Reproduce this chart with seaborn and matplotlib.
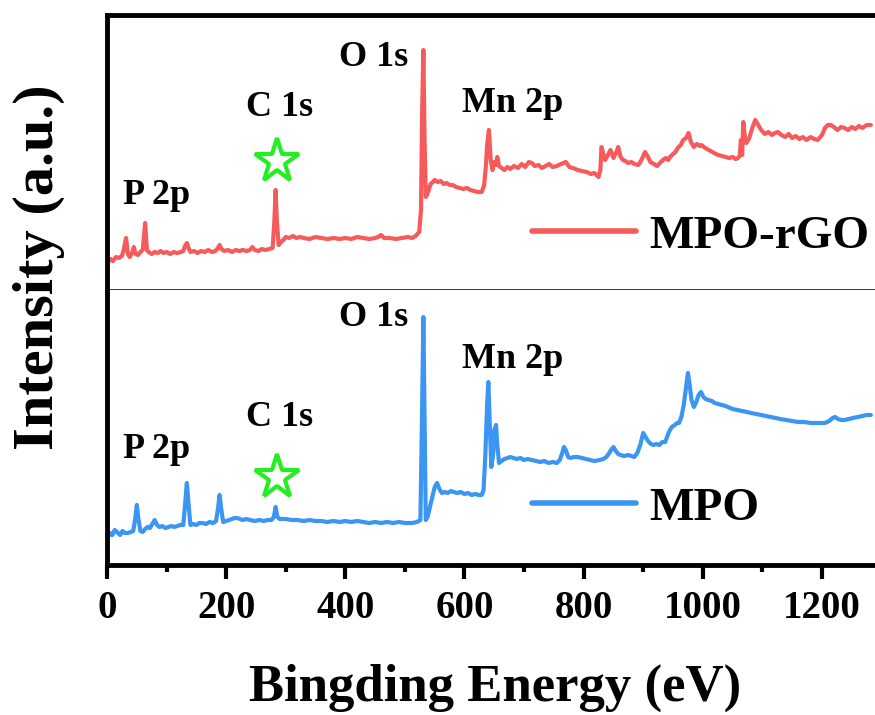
import matplotlib
matplotlib.use("Agg")
import matplotlib.pyplot as plt
import seaborn as sns
import pandas as pd

# XPS survey spectrum of MPO-rGO (binding energy in eV, intensity in a.u.)
rgo_energy = [2, 6, 10, 15, 20, 25, 28, 32, 35, 38, 42, 45, 48, 52, 56, 60, 64, 67, 70, 75,
              80, 85, 90, 95, 100, 106, 112, 118, 124, 128, 131, 134, 137, 140, 146, 152,
              158, 164, 170, 176, 182, 186, 189, 192, 197, 203, 210, 216, 222, 228, 234,
              240, 244, 248, 254, 260, 266, 272, 278, 281, 283, 285, 288, 292, 296, 300,
              306, 312, 318, 324, 330, 340, 350, 360, 370, 380, 390, 400, 410, 420, 430,
              440, 450, 455, 460, 465, 475, 485, 495, 505, 512, 518, 524, 527, 529, 531,
              533, 535, 537, 540, 543, 547, 550, 555, 560, 565, 570, 575, 580, 586, 592,
              598, 604, 610, 616, 622, 629, 633, 636, 638, 641, 644, 647, 650, 653, 655,
              658, 662, 667, 672, 677, 683, 690, 696, 702, 708, 713, 718, 724, 730, 736,
              742, 748, 755, 762, 770, 776, 782, 790, 797, 805, 812, 818, 825, 828, 830,
              833, 836, 840, 845, 850, 855, 858, 862, 866, 870, 875, 880, 885, 892, 897,
              903, 908, 912, 918, 923, 928, 933, 938, 942, 945, 950, 954, 958, 963, 967,
              972, 976, 980, 985, 990, 995, 998, 1004, 1010, 1016, 1022, 1026, 1032, 1038,
              1044, 1050, 1055, 1059, 1062, 1064, 1066, 1068, 1071, 1073, 1078, 1083,
              1088, 1093, 1098, 1104, 1110, 1116, 1121, 1126, 1132, 1138, 1144, 1150,
              1156, 1162, 1168, 1174, 1181, 1187, 1193, 1200, 1205, 1210, 1215, 1220,
              1226, 1232, 1238, 1244, 1250, 1256, 1262, 1268, 1275, 1282]
rgo_intensity = [28, 31, 29, 33, 32, 34, 40, 52, 36, 33, 37, 43, 36, 35, 38, 40, 67, 40, 38, 36,
                 38, 37, 39, 37, 38, 36, 38, 37, 38, 39, 44, 47, 42, 38, 39, 37,
                 39, 38, 40, 38, 39, 42, 45, 41, 39, 40, 38, 40, 39, 40, 39,
                 40, 43, 40, 39, 41, 40, 41, 42, 70, 100, 70, 45, 48, 50, 53,
                 52, 54, 52, 53, 52, 51, 53, 52, 51, 52, 51, 52, 51, 53, 52,
                 51, 52, 53, 55, 52, 52, 51, 52, 53, 52, 54, 58, 80, 180, 240,
                 150, 93, 95, 100, 106, 108, 110, 108, 109, 106, 107, 105, 105, 103, 102,
                 101, 102, 100, 99, 98, 98, 105, 125, 145, 160, 130, 120, 128, 125, 133,
                 124, 122, 120, 123, 121, 124, 122, 126, 123, 128, 127, 124, 125, 122, 124,
                 126, 123, 124, 126, 128, 123, 122, 120, 119, 118, 116, 117, 113, 120, 143,
                 136, 130, 134, 140, 132, 138, 143, 133, 130, 129, 127, 128, 126, 125, 130,
                 138, 133, 128, 126, 124, 127, 130, 132, 130, 133, 136, 138, 142, 145, 150,
                 152, 157, 148, 143, 146, 144, 145, 142, 140, 138, 136, 135, 134, 133,
                 132, 133, 131, 132, 134, 150, 135, 168, 150, 147, 152, 162,
                 170, 165, 160, 156, 158, 155, 157, 158, 155, 153, 156, 152,
                 154, 151, 153, 150, 153, 151, 150, 155, 162, 165, 165, 163,
                 160, 163, 162, 160, 163, 161, 164, 162, 165, 165]

# XPS survey spectrum of MPO
mpo_energy = [2, 5, 9, 13, 17, 22, 26, 30, 35, 40, 44, 47, 50, 53, 56, 60, 64, 68, 72, 76,
              80, 84, 88, 93, 98, 103, 108, 113, 118, 123, 128, 131, 134, 137, 140, 145,
              150, 155, 160, 166, 172, 178, 183, 186, 189, 192, 195, 200, 205, 210, 214,
              218, 223, 228, 234, 240, 248, 256, 263, 270, 276, 280, 283, 286, 290, 300,
              310, 320, 330, 340, 350, 360, 370, 380, 390, 400, 410, 420, 430, 440, 450,
              460, 470, 480, 490, 500, 512, 520, 526, 528, 531, 533, 535, 538, 542, 546,
              550, 554, 558, 562, 567, 572, 577, 582, 588, 594, 600, 606, 612, 618, 624,
              629, 632, 635, 638, 640, 642, 645, 648, 650, 653, 655, 658, 662, 667, 672,
              677, 682, 688, 694, 700, 706, 713, 720, 727, 734, 741, 748, 755, 760, 764,
              767, 770, 774, 778, 784, 790, 797, 804, 811, 818, 827, 833, 838, 843, 847,
              850, 854, 858, 862, 868, 875, 880, 885, 890, 895, 900, 904, 908, 913, 917,
              922, 927, 932, 937, 940, 943, 948, 953, 957, 960, 964, 968, 972, 975, 978,
              981, 985, 989, 993, 997, 1001, 1005, 1009, 1015, 1020, 1026, 1032, 1038,
              1042, 1050, 1058, 1066, 1074, 1081, 1090, 1098, 1106, 1114, 1122, 1130,
              1140, 1150, 1160, 1170, 1181, 1190, 1198, 1205, 1212, 1218, 1222, 1227,
              1232, 1238, 1245, 1252, 1260, 1268, 1275, 1282]
mpo_intensity = [28, 32, 30, 35, 33, 30, 34, 32, 32, 33, 34, 45, 60, 45, 34, 33, 36, 38, 37, 41,
                 45, 40, 38, 39, 37, 38, 39, 38, 39, 40, 40, 60, 82, 60, 40, 41,
                 40, 42, 42, 41, 43, 42, 44, 55, 70, 55, 43, 44, 45, 46, 47,
                 47, 46, 45, 46, 45, 44, 45, 44, 45, 45, 48, 58, 48, 46, 46,
                 45, 45, 44, 45, 44, 44, 43, 44, 43, 44, 43, 44, 43, 42, 43,
                 42, 43, 42, 43, 42, 42, 43, 45, 120, 248, 150, 45, 48, 58, 68,
                 78, 82, 76, 72, 73, 72, 74, 73, 72, 73, 71, 72, 70, 71, 70,
                 70, 75, 110, 160, 183, 150, 98, 110, 135, 140, 120, 102, 104, 106, 107,
                 108, 107, 106, 107, 105, 106, 105, 104, 103, 104, 102, 103, 102, 105, 112,
                 118, 115, 108, 107, 108, 108, 107, 106, 105, 104, 105, 106, 108, 112, 116,
                 118, 114, 111, 110, 109, 110, 109, 108, 112, 120, 132, 128, 124, 121, 120,
                 121, 120, 123, 123, 128, 133, 138, 140, 142, 142, 148, 160, 178, 192, 180,
                 165, 158, 163, 170, 173, 168, 166, 165, 164, 162, 161, 160, 159,
                 158, 156, 155, 154, 153, 152, 151, 150, 149, 148, 147, 146,
                 145, 144, 143, 143, 142, 142, 142, 142, 144, 147, 148, 146,
                 145, 145, 146, 147, 148, 149, 150, 150]

samples = ["MPO-rGO", "MPO"]
colors = ["#F75A5A", "#3A96F2"]

# peak annotations (label, energy, intensity) for each panel
rgo_labels = [("P 2p", 84, 95), ("C 1s", 289, 183), ("O 1s", 448, 233), ("Mn 2p", 680, 186)]
mpo_labels = [("P 2p", 84, 115), ("C 1s", 289, 148), ("O 1s", 448, 248), ("Mn 2p", 680, 205)]
star_points = [(285, 129), (285, 88)]

x_ticks = [0, 200, 400, 600, 800, 1000, 1200]
x_minor = [100, 300, 500, 700, 900, 1100]

sns.set_style("ticks")
plt.rcParams["font.family"] = ["Liberation Serif", "DejaVu Serif"]
plt.rcParams["font.weight"] = "bold"
plt.rcParams["text.color"] = "black"
plt.rcParams["axes.edgecolor"] = "black"
plt.rcParams["xtick.color"] = "black"
plt.rcParams["axes.labelcolor"] = "black"

fig = plt.figure(figsize=(8.75, 7.15), dpi=100)
W, H = 875, 715
left, right = 107, 875
top, mid, bottom = 15, 290, 565
ax_top = fig.add_axes([left / W, 1 - mid / H, (right - left) / W, (mid - top) / H])
ax_bot = fig.add_axes([left / W, 1 - bottom / H, (right - left) / W, (bottom - mid) / H],
                      sharex=ax_top)

panels = [
    (ax_top, rgo_energy, rgo_intensity, rgo_labels, star_points[0], 0.196),
    (ax_bot, mpo_energy, mpo_intensity, mpo_labels, star_points[1], 0.207),
]

for i, (ax, e, inten, labels, star, leg_y) in enumerate(panels):
    df = pd.DataFrame({"Binding energy": e, "Intensity": inten})
    sns.lineplot(data=df, x="Binding energy", y="Intensity", ax=ax, color=colors[i],
                 lw=3.0, label=samples[i], sort=False, estimator=None)
    for txt, xe, yi in labels:
        ax.text(xe, yi, txt, ha="center", va="center", fontsize=26, fontweight="bold",
                color="black")
    ax.plot([star[0]], [star[1]], marker="*", markersize=33, mfc="white",
            mec="#22EE22", mew=3, ls="none")
    ax.set_ylim(0, 275)
    ax.set_xlim(0, 1289)
    ax.set_yticks([])
    ax.set_ylabel("")
    ax.set_xlabel("")
    leg = ax.legend(loc="center left", bbox_to_anchor=(0.553, leg_y), frameon=False,
                    fontsize=34, handlelength=2.2, handletextpad=0.28, borderpad=0,
                    borderaxespad=0)
    for t in leg.get_texts():
        t.set_fontweight("bold")
        t.set_color("black")
    for line in leg.get_lines():
        line.set_linewidth(4)
    ax.spines["right"].set_visible(False)
    ax.spines["left"].set_linewidth(3.5)

ax_top.spines["top"].set_linewidth(3.5)
ax_top.spines["bottom"].set_linewidth(1.8)
ax_bot.spines["top"].set_visible(False)
ax_bot.spines["bottom"].set_linewidth(3.5)
ax_top.tick_params(axis="x", bottom=False, labelbottom=False)

ax_bot.set_xticks(x_ticks)
ax_bot.set_xticks(x_minor, minor=True)
ax_bot.set_xticklabels([str(t) for t in x_ticks])
ax_bot.tick_params(axis="x", which="major", direction="out", length=10, width=3,
                   labelsize=28, pad=8, colors="black")
ax_bot.tick_params(axis="x", which="minor", direction="out", length=5, width=3,
                   colors="black")
for lab in ax_bot.get_xticklabels():
    lab.set_fontweight("bold")

fig.text(39 / W, 1 - 267 / H, "Intensity (a.u.)", rotation=90, ha="center", va="center",
         fontsize=42, fontweight="bold", color="black")
fig.text(495 / W, 1 - 688 / H, "Bingding Energy (eV)", ha="center", va="center",
         fontsize=38, fontweight="bold", color="black")

fig.savefig("out.png", dpi=100)
